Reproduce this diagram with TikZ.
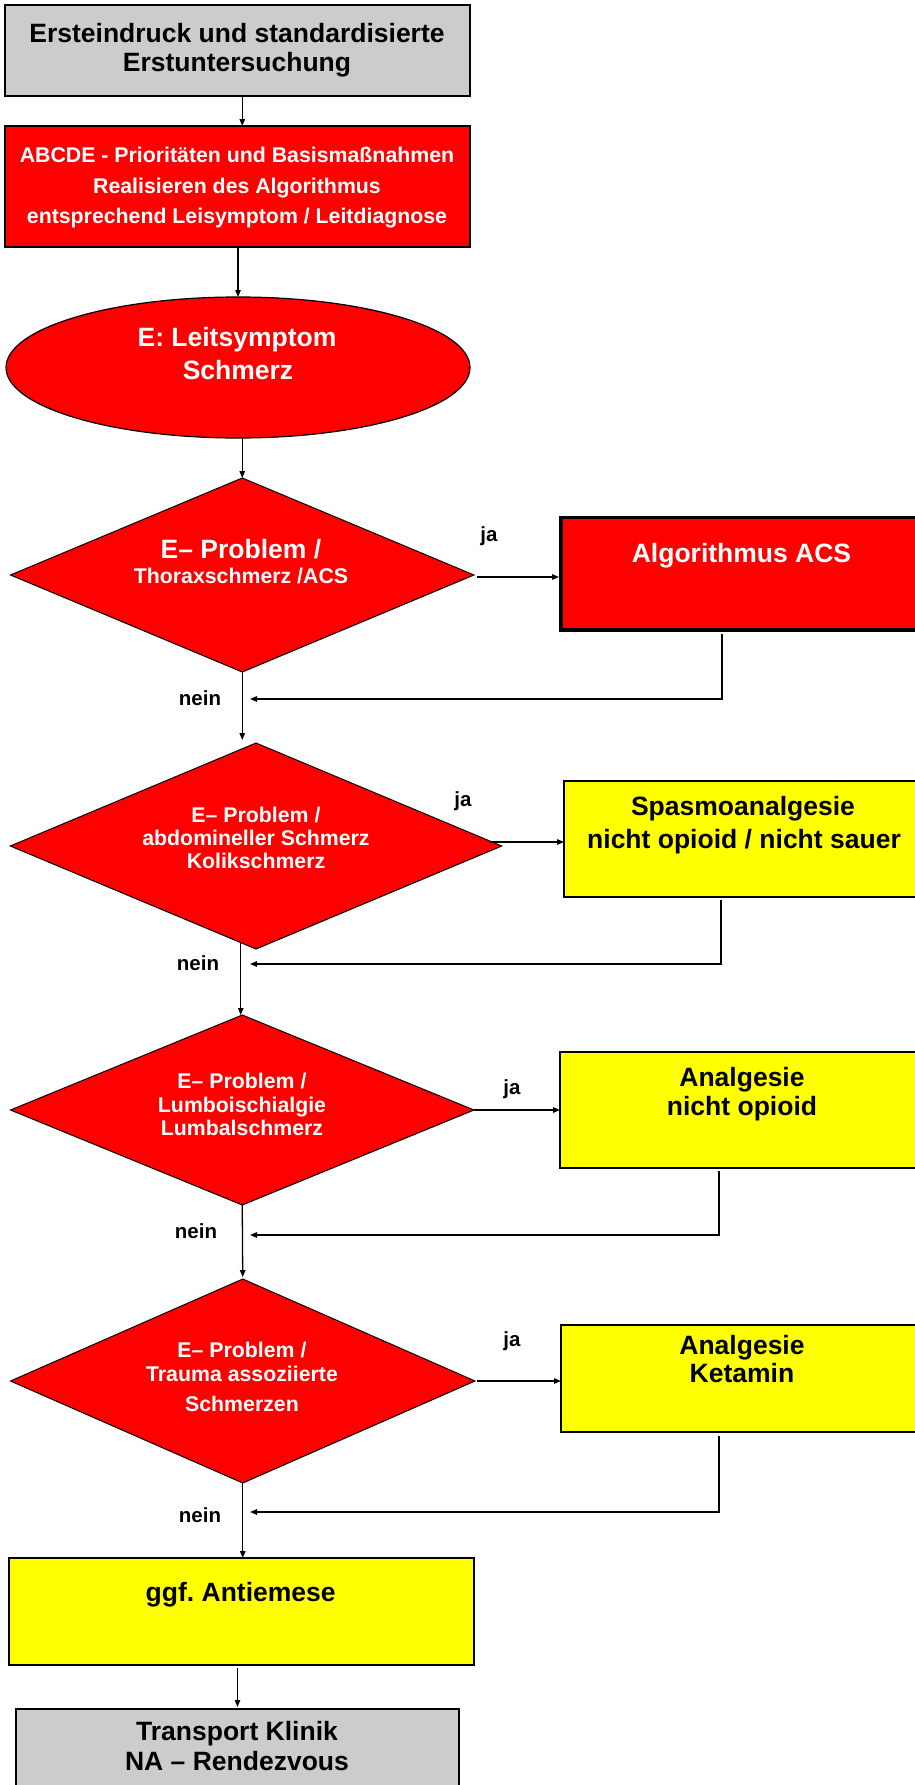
\documentclass[tikz,border=0pt]{standalone}
\usepackage{fontspec}
\setmainfont{Liberation Sans}
\usetikzlibrary{shapes.geometric,arrows.meta}
\definecolor{boxgray}{HTML}{CCCCCC}
\definecolor{alarmred}{HTML}{FF0000}
\definecolor{drugyellow}{HTML}{FFFF00}
\frenchspacing
\begin{document}
\begin{tikzpicture}[x=1pt,y=-1pt,
  shp/.style={draw=black, inner sep=0pt, outer sep=0pt},
  graybox/.style={shp, rectangle, fill=boxgray, line width=2pt},
  redbox/.style={shp, rectangle, fill=alarmred, line width=2pt},
  yelbox/.style={shp, rectangle, fill=drugyellow, line width=1.6pt},
  decision/.style={shp, diamond, fill=alarmred, line width=1pt},
  ln/.style={anchor=base, inner sep=0pt, font=\bfseries},
  big/.style={ln, font=\fontsize{26.5}{30}\selectfont\bfseries},
  small/.style={ln, font=\fontsize{21.3}{24}\selectfont\bfseries},
  lbl/.style={ln, font=\fontsize{20.5}{24}\selectfont\bfseries},
  wt/.style={text=white},
  arr/.style={line width=1.3pt, -{Triangle[length=7pt,width=5.5pt]}},
  link/.style={line width=1.3pt}
]
\useasboundingbox (0,0) rectangle (915,1785);
\begin{scope}
\clip (0,0) rectangle (915,1785);

% main column
\node[graybox, minimum width=465pt, minimum height=91pt] (b1) at (237.5,50.5) {};
\node[redbox, minimum width=465pt, minimum height=121pt] (b2) at (237.5,186.5) {};
\node[shp, ellipse, fill=alarmred, line width=1.2pt, minimum width=464pt, minimum height=141pt] (el) at (238,367.5) {};
\node[decision, minimum width=463.5pt, minimum height=194pt] (d1) at (242.25,575) {};
\node[decision, minimum width=491.5pt, minimum height=206pt] (d2) at (256,846) {};
\node[decision, minimum width=463.5pt, minimum height=190pt] (d3) at (242.25,1110) {};
\node[decision, minimum width=464.5pt, minimum height=204pt] (d4) at (242.75,1381) {};
\node[yelbox, minimum width=465pt, minimum height=107pt] (ant) at (241.5,1611.5) {};
\node[graybox, minimum width=443pt, minimum height=121pt] (tra) at (237.5,1769.5) {};

% measures on the right
\node[redbox, line width=3.5pt, minimum width=439pt, minimum height=112.5pt] (acs) at (780.5,573.75) {};
\node[yelbox, minimum width=436pt, minimum height=116pt] (spa) at (782,839) {};
\node[yelbox, minimum width=440pt, minimum height=116pt] (ana) at (780,1110) {};
\node[yelbox, minimum width=439pt, minimum height=107pt] (ket) at (780.5,1378.5) {};

% texts
\node[big] (t1a) at (237,43) {Ersteindruck und standardisierte};
\node[big] (t1b) at (237,71) {Erstuntersuchung};
\node[small, wt] (t2a) at (237,162) {ABCDE - Prioritäten und Basismaßnahmen};
\node[small, wt] (t2b) at (237,193) {Realisieren des Algorithmus};
\node[small, wt] (t2c) at (237,223) {entsprechend Leisymptom / Leitdiagnose};
\node[big, wt] (t3a) at (237,346) {E: Leitsymptom};
\node[big, wt] (t3b) at (238,379) {Schmerz};
\node[big, wt] (t4a) at (241,558) {E– Problem /};
\node[small, wt] (t4b) at (241,583) {Thoraxschmerz /ACS};
\node[big, wt] (t5) at (741.5,562) {Algorithmus ACS};
\node[small, wt] (t6a) at (256,822) {E– Problem /};
\node[small, wt] (t6b) at (256,845) {abdomineller Schmerz};
\node[small, wt] (t6c) at (256,868) {Kolikschmerz};
\node[big] (t7a) at (743,815) {Spasmoanalgesie};
\node[big] (t7b) at (744,848) {nicht opioid / nicht sauer};
\node[small, wt] (t8a) at (242,1088) {E– Problem /};
\node[small, wt] (t8b) at (242,1112) {Lumboischialgie};
\node[small, wt] (t8c) at (242,1135) {Lumbalschmerz};
\node[big] (t9a) at (742,1086) {Analgesie};
\node[big] (t9b) at (742,1115) {nicht opioid};
\node[small, wt] (t10a) at (242,1357.5) {E– Problem /};
\node[small, wt] (t10b) at (242,1381) {Trauma assoziierte};
\node[small, wt] (t10c) at (242,1411) {Schmerzen};
\node[big] (t11a) at (742,1354) {Analgesie};
\node[big] (t11b) at (742,1382.5) {Ketamin};
\node[big] (t12) at (240.7,1601) {ggf. Antiemese};
\node[big] (t13a) at (237,1740.5) {Transport Klinik};
\node[big] (t13b) at (237,1770) {NA – Rendezvous};

% branch labels
\node[lbl] (ja1) at (489,541) {ja};
\node[lbl] (ja2) at (463,806) {ja};
\node[lbl] (ja3) at (512,1094) {ja};
\node[lbl] (ja4) at (512,1346) {ja};
\node[lbl] (n1) at (200,705) {nein};
\node[lbl] (n2) at (198,970) {nein};
\node[lbl] (n3) at (196,1238) {nein};
\node[lbl] (n4) at (200,1522) {nein};

% main flow
\draw[arr] (b1.south -| d1) -- (b2.north -| d1);
\draw[arr] (b2.south -| el) -- (el.north);
\draw[arr] (el.south -| d1) -- (d1.north);
\draw[arr, shorten >=3pt] (d1.south) -- (d1.south |- d2.north);
\coordinate (d2out) at (d2.261.8);
\draw[arr] (d2out) -- (d2out |- d3.north);
\draw[arr, shorten >=2pt] (d3.south) -- (d4.north);
\draw[arr] (d4.south) -- (d4.south |- ant.north);
\draw[arr, shorten <=3pt, shorten >=2pt] (ant.south -| tra) -- (tra.north);

% yes branches
\coordinate (y1) at ([xshift=3pt,yshift=-2pt]d1.east);
\draw[arr, shorten >=2pt] (y1) -- (y1 -| acs.west);
\coordinate (y2) at ([xshift=-12pt,yshift=4pt]d2.east);
\draw[arr] (y2) -- (y2 -| spa.west);
\draw[arr] (d3.east) -- (d3.east -| ana.west);
\coordinate (y4) at ([xshift=2pt]d4.east);
\draw[arr] (y4) -- (y4 -| ket.west);

% returns to the main column
\coordinate (r1) at (250,699);
\coordinate (r2) at (250,964);
\coordinate (r3) at (250,1235);
\coordinate (r4) at (250,1512);
\draw[arr] ([xshift=161pt,yshift=-4pt]acs.south west) |- (r1);
\draw[arr] ([xshift=157pt,yshift=-3pt]spa.south west) |- (r2);
\draw[arr] ([xshift=159pt,yshift=-3pt]ana.south west) |- (r3);
\draw[arr] ([xshift=158pt,yshift=-4pt]ket.south west) |- (r4);
\end{scope}
\end{tikzpicture}
\end{document}
